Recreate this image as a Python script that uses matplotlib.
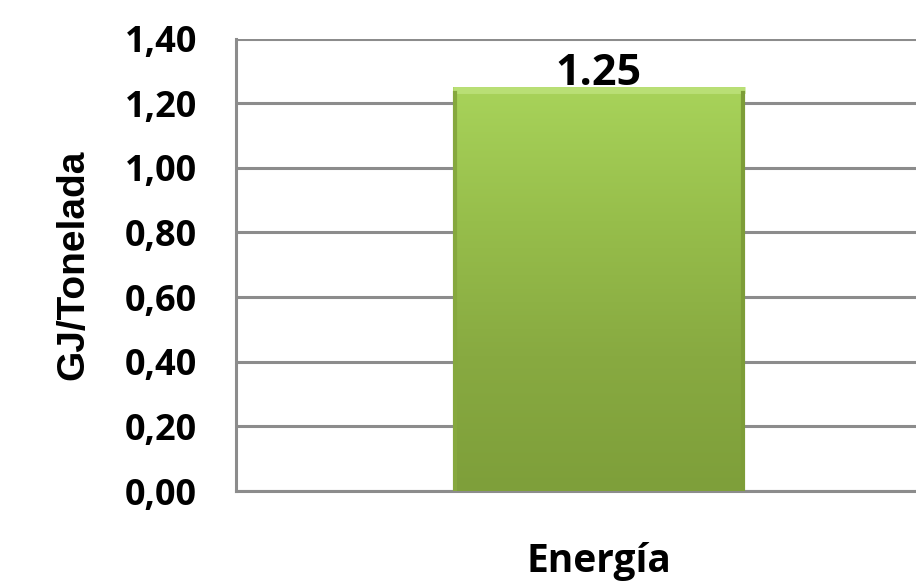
import numpy as np
import matplotlib.pyplot as plt
from matplotlib.colors import LinearSegmentedColormap

categories = ['Energía']
values = [1.25]
value_labels = ['1.25']
yticks = [0.0, 0.2, 0.4, 0.6, 0.8, 1.0, 1.2, 1.4]

plt.rcParams['font.family'] = ['Open Sans', 'DejaVu Sans']
plt.rcParams['font.weight'] = 'bold'

fig = plt.figure(figsize=(9.16, 5.83), dpi=100)
ax = fig.add_axes([236 / 916, 1 - 491 / 583, 726 / 916, 452.5 / 583])

ax.set_xlim(-0.5, 0.5)
ax.set_ylim(0, 1.4)
ax.set_yticks(yticks)
ax.set_yticklabels(['{:.2f}'.format(t).replace('.', ',') for t in yticks])
ax.yaxis.grid(True, color='#8c8c8c', linewidth=2.2)
ax.set_axisbelow(True)
for s in ['top', 'right']:
    ax.spines[s].set_visible(False)
ax.spines['left'].set_color('#8c8c8c')
ax.spines['left'].set_linewidth(2.2)
ax.spines['bottom'].set_color('#8c8c8c')
ax.spines['bottom'].set_linewidth(2.2)
ax.tick_params(axis='y', length=0, pad=28, labelsize=26)
ax.tick_params(axis='x', length=0, pad=37, labelsize=28)

cmap = LinearSegmentedColormap.from_list('g', ['#7e9f3a', '#88aa41', '#97be4b', '#a8d35a'])
bars = ax.bar(range(len(categories)), values, width=0.402, color='none', edgecolor='none', zorder=3)
ax.set_xticks(range(len(categories)))
ax.set_xticklabels(categories)
for b, lab in zip(bars, value_labels):
    x0, w, h = b.get_x(), b.get_width(), b.get_height()
    grad = np.linspace(0, 1, 256).reshape(-1, 1)
    im = ax.imshow(grad, cmap=cmap, origin='lower', aspect='auto',
                   extent=[x0, x0 + w, 0, h], zorder=3)
    im.set_clip_path(b)
    ax.plot([x0, x0 + w], [h - 0.01, h - 0.01], color='#b9df75', linewidth=5, zorder=4, solid_capstyle='butt')
    ax.plot([x0 + 0.003, x0 + 0.003], [0, h - 0.02], color='#86a83e', linewidth=3, zorder=4)
    ax.plot([x0 + w - 0.003, x0 + w - 0.003], [0, h - 0.02], color='#7d9d38', linewidth=3, zorder=4)
    ax.text(x0 + w / 2, h - 0.025, lab, ha='center', va='bottom', fontsize=31, fontweight='bold', zorder=5)

ax.set_ylabel('GJ/Tonelada', fontsize=28, fontweight='bold', labelpad=24,
              family=['Liberation Sans', 'DejaVu Sans'])

fig.savefig('out.png', dpi=100)
